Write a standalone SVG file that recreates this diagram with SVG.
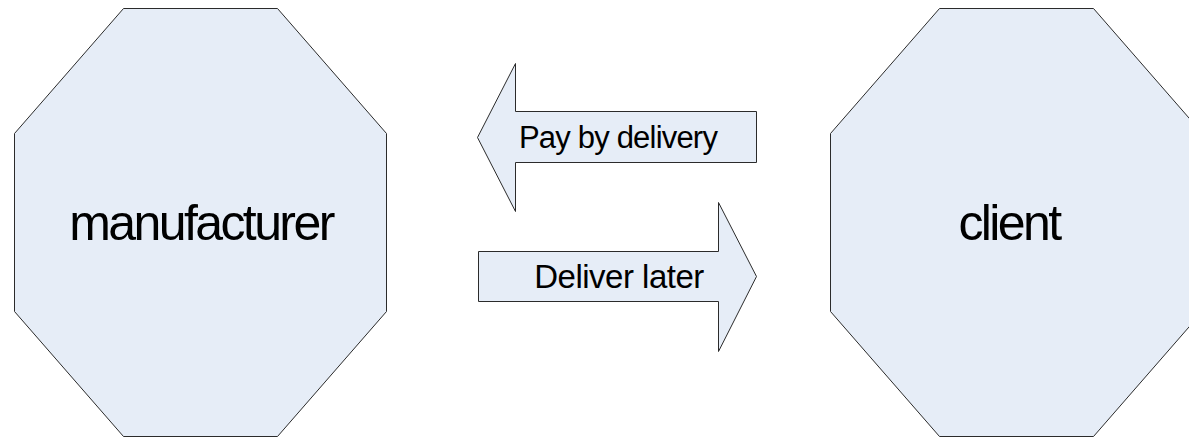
<svg xmlns="http://www.w3.org/2000/svg" width="1189" height="437" viewBox="0 0 1189 437">
  <style>
    .shape { fill: #e6edf7; stroke: #2b2b2b; stroke-width: 1; stroke-linejoin: miter; }
    .big { font-family: "Liberation Sans", Arial, sans-serif; font-size: 50px; letter-spacing: -2.6px; fill: #000; text-anchor: middle; }
    .small { font-family: "Liberation Sans", Arial, sans-serif; font-size: 31px; letter-spacing: -0.8px; fill: #000; text-anchor: middle; }
  </style>
  <rect width="1189" height="437" fill="#ffffff"/>

  <g id="manufacturer">
    <polygon class="shape" points="123.5,8.5 277.5,8.5 386.5,133.5 386.5,311.5 277.5,436.5 123.5,436.5 14.5,311.5 14.5,133.5"/>
    <text class="big" x="201" y="240">manufacturer</text>
  </g>

  <g id="client">
    <polygon class="shape" points="939.5,8.5 1093.5,8.5 1202.5,133.5 1202.5,311.5 1093.5,436.5 939.5,436.5 830.5,311.5 830.5,133.5"/>
    <text class="big" x="1009" y="240">client</text>
  </g>

  <g id="connectors">
    <g id="pay-by-delivery">
      <polygon class="shape" points="477.5,137.5 515.5,63.5 515.5,111.5 756.5,111.5 756.5,162.5 515.5,162.5 515.5,211.5"/>
      <text class="small" x="618" y="148">Pay by delivery</text>
    </g>
    <g id="deliver-later">
      <polygon class="shape" points="478.5,251.5 718.5,251.5 718.5,202.5 756.5,276.5 718.5,351.5 718.5,301.5 478.5,301.5"/>
      <text class="small" x="619" y="288" style="font-size:33px;letter-spacing:-0.5px">Deliver later</text>
    </g>
  </g>
</svg>
